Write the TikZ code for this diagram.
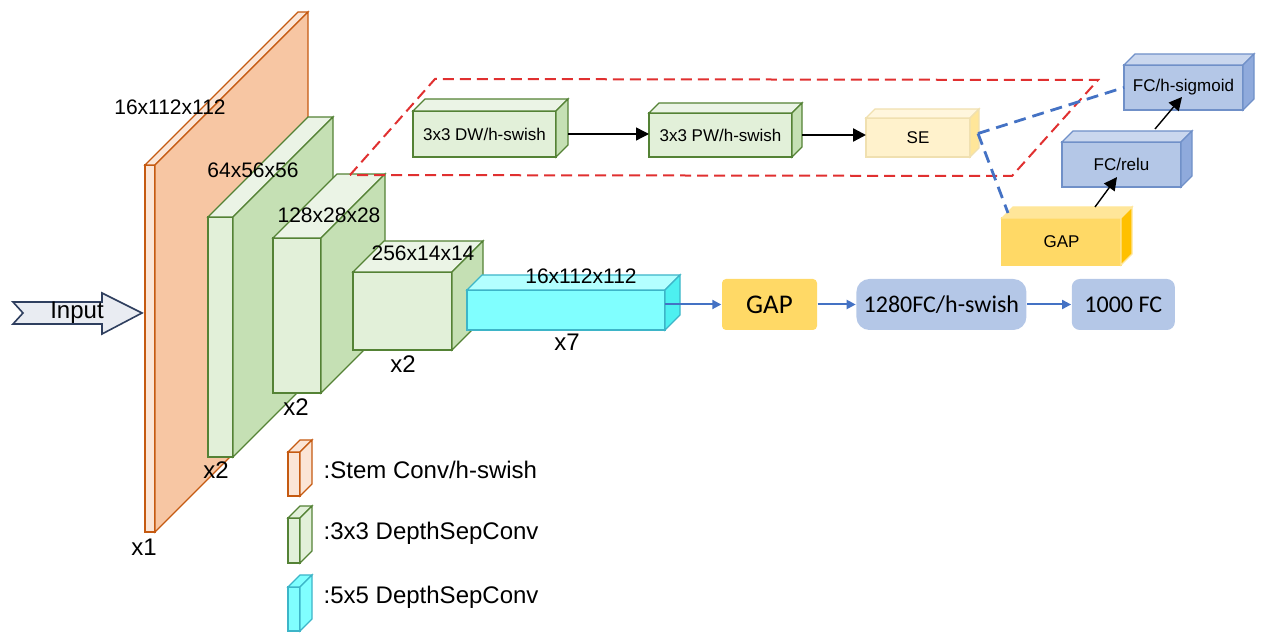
\documentclass[tikz,border=0pt]{standalone}
\usepackage{fontspec}
\setmainfont{Liberation Sans}
\newfontfamily\calibri{Carlito}
\usetikzlibrary{arrows.meta,positioning}

\definecolor{stemline}{HTML}{C55A11}
\definecolor{stemfront}{HTML}{FBE5D6}
\definecolor{stemside}{HTML}{F7C6A3}
\definecolor{dscline}{HTML}{548235}
\definecolor{dscfront}{HTML}{E2F0D9}
\definecolor{dscside}{HTML}{C5E0B4}
\definecolor{dsctop}{HTML}{EBF4E6}
\definecolor{cyline}{HTML}{3DB5C8}
\definecolor{cyfront}{HTML}{80FFFF}
\definecolor{cyside}{HTML}{4DF0F0}
\definecolor{cytop}{HTML}{B3FFFF}
\definecolor{seline}{HTML}{F0E0B0}
\definecolor{sefront}{HTML}{FFF2CC}
\definecolor{seside}{HTML}{FFE699}
\definecolor{setop}{HTML}{FFF6DD}
\definecolor{gapfront}{HTML}{FFD966}
\definecolor{gapside}{HTML}{FFC000}
\definecolor{gaptop}{HTML}{FFE699}
\definecolor{fcline}{HTML}{7090C8}
\definecolor{fcfront}{HTML}{B4C7E7}
\definecolor{fcside}{HTML}{8FAADC}
\definecolor{fctop}{HTML}{CAD7EE}
\definecolor{flowblue}{HTML}{4472C4}
\definecolor{redbox}{HTML}{E03030}
\definecolor{inputfill}{HTML}{E9ECF2}
\definecolor{inputline}{HTML}{2F3F5F}

\newcommand{\pxu}{0.5pt}

% top and side faces of a block: node, depth, line, top, side
\newcommand{\faces}[5]{%
  \filldraw[draw=#3, fill=#4] (#1.north west) -- ([shift={(#2,-#2)}]#1.north west)
    -- ([shift={(#2,-#2)}]#1.north east) -- (#1.north east) -- cycle;
  \filldraw[draw=#3, fill=#5] (#1.north east) -- ([shift={(#2,-#2)}]#1.north east)
    -- ([shift={(#2,-#2)}]#1.south east) -- (#1.south east) -- cycle;
}

\tikzstyle{front} = [draw, rectangle, inner sep=0pt, outer sep=0pt]
\tikzstyle{stem} = [front, draw=stemline, fill=stemfront]
\tikzstyle{dsc} = [front, draw=dscline, fill=dscfront]
\tikzstyle{dsc5} = [front, draw=cyline, fill=cyfront]
\tikzstyle{sebox} = [front, draw=seline, fill=sefront]
\tikzstyle{gapbox} = [front, draw=gapfront, fill=gapfront]
\tikzstyle{fcbox} = [front, draw=fcline, fill=fcfront]
\tikzstyle{inner} = [font=\fontsize{8.5}{10}\selectfont]
\tikzstyle{dims} = [inner sep=0pt, font=\fontsize{10.5}{12}\selectfont]
\tikzstyle{reps} = [inner sep=0pt, font=\fontsize{12}{14}\selectfont]
\tikzstyle{legend} = [inner sep=0pt, anchor=west, font=\fontsize{12}{14}\selectfont]
\tikzstyle{head} = [rectangle, rounded corners=2pt, inner sep=0pt, minimum height=51*\pxu, font=\calibri\fontsize{12}{14}\selectfont]

\begin{document}
\begin{tikzpicture}[x=0.5pt,y=-0.5pt,line width=0.7pt,
  >={Triangle[length=6.5pt,width=6.5pt]}]
\useasboundingbox (0,0) rectangle (1264,640);

% input
\filldraw[draw=inputline, fill=inputfill, line width=0.8pt]
  (13,302) -- (102,302) -- (102,293) -- (142,313) -- (102,334) -- (102,324) -- (13,324) -- (23,313) -- cycle;
\node[reps] (input) at (77,313) {Input};

% backbone
\node[stem, minimum width=10*\pxu, minimum height=367*\pxu] (b16) at (150,348.5) {};
\faces{b16}{153}{stemline}{stemfront}{stemside}
\node[dsc, minimum width=25*\pxu, minimum height=240*\pxu] (b64) at (220.5,337) {};
\faces{b64}{100}{dscline}{dsctop}{dscside}
\node[dsc, minimum width=48*\pxu, minimum height=155*\pxu] (b128) at (297,315.5) {};
\faces{b128}{64}{dscline}{dsctop}{dscside}
\node[dsc, minimum width=99*\pxu, minimum height=78*\pxu] (b256) at (402.5,311) {};
\faces{b256}{31}{dscline}{dsctop}{dscside}
\node[dsc5, minimum width=198*\pxu, minimum height=40*\pxu] (b5x5) at (566,310) {};
\faces{b5x5}{15}{cyline}{cytop}{cyside}

\node[dims] at (170,107) {16x112x112};
\node[dims] at (253,170) {64x56x56};
\node[dims] at (329,215) {128x28x28};
\node[dims] at (423,253) {256x14x14};
\node[dims] at (581,276) {16x112x112};
\node[reps] at (144,547) {x1};
\node[reps] at (216,470) {x2};
\node[reps] at (296,407) {x2};
\node[reps] at (403,364) {x2};
\node[reps] at (567,342) {x7};

% block detail
\draw[redbox, line width=1pt, dash pattern=on 5.5pt off 3pt]
  (350,175) -- (435,79) -- (1098,80) -- (1012,176) -- cycle;

\node[dsc, inner, minimum width=143*\pxu, minimum height=46*\pxu] (dw) at (484.5,134) {3x3 DW/h-swish};
\faces{dw}{12}{dscline}{dsctop}{dscside}
\node[dsc, inner, minimum width=143*\pxu, minimum height=44*\pxu] (pw) at (720.5,135) {3x3 PW/h-swish};
\faces{pw}{10}{dscline}{dsctop}{dscside}
\node[sebox, inner, minimum width=104*\pxu, minimum height=39*\pxu] (se) at (918,137.5) {SE};
\faces{se}{9}{seline}{setop}{seside}

\node[fcbox, inner, minimum width=119*\pxu, minimum height=45*\pxu] (sig) at (1183.5,87.5) {FC/h-sigmoid};
\faces{sig}{11}{fcline}{fctop}{fcside}
\node[fcbox, inner, minimum width=119*\pxu, minimum height=45*\pxu] (relu) at (1121.5,164.5) {FC/relu};
\faces{relu}{11}{fcline}{fctop}{fcside}
\node[gapbox, inner, minimum width=119*\pxu, minimum height=47*\pxu] (segap) at (1061.5,241.5) {GAP};
\faces{segap}{11}{gaptop}{gaptop}{gapside}

\draw[->] ([xshift=12*\pxu]dw.east) -- (pw.west |- dw.east);
\draw[->, line width=1.2pt] ([xshift=10*\pxu]pw.east) -- (se.west |- pw.east);
\draw[->] ([shift={(33.5,-11)}]segap.north) -- ([shift={(-4.5,-10)}]relu.south);
\draw[->] ([shift={(33.5,-13)}]relu.north) -- ([shift={(-1.5,-13)}]sig.south);

\draw[flowblue, line width=1.4pt, dash pattern=on 6pt off 3.5pt]
  ([shift={(8,-4)}]se.east) -- (sig.west);
\draw[flowblue, line width=1.4pt, dash pattern=on 6pt off 3.5pt]
  ([shift={(8,-4)}]se.east) -- ([shift={(6,-5)}]segap.north west);

% head
\node[head, fill=gapfront, minimum width=95*\pxu, font=\calibri\fontsize{13.5}{15}\selectfont] (gap) at (769.5,304.5) {GAP};
\node[head, fill=fcfront, minimum width=170*\pxu, rounded corners=6.5pt, right=19pt of gap] (fc1280) {1280FC/h-swish};
\node[head, fill=fcfront, minimum width=103*\pxu, rounded corners=4pt, right=22pt of fc1280] (fc1000) {1000 FC};

\path[->, flowblue, line width=1pt, >={Triangle[length=4.5pt,width=4.5pt]}]
  (b5x5.east |- gap.west) edge (gap.west)
  (gap) edge (fc1280)
  (fc1280) edge (fc1000);

% legend
\node[stem, minimum width=12*\pxu, minimum height=44*\pxu] (lstem) at (294,474) {};
\faces{lstem}{12}{stemline}{stemfront}{stemfront}
\node[dsc, minimum width=12*\pxu, minimum height=45*\pxu] (ldsc) at (294,540.5) {};
\faces{ldsc}{12}{dscline}{dscfront}{dscfront}
\node[dsc5, minimum width=12*\pxu, minimum height=44*\pxu] (ldsc5) at (294,609) {};
\faces{ldsc5}{12}{cyline}{cyfront}{cyfront}

\node[legend] at (323,470) {:Stem Conv/h-swish};
\node[legend] at (323,533) {:3x3 DepthSepConv};
\node[legend] at (323,597) {:5x5 DepthSepConv};

\end{tikzpicture}
\end{document}
